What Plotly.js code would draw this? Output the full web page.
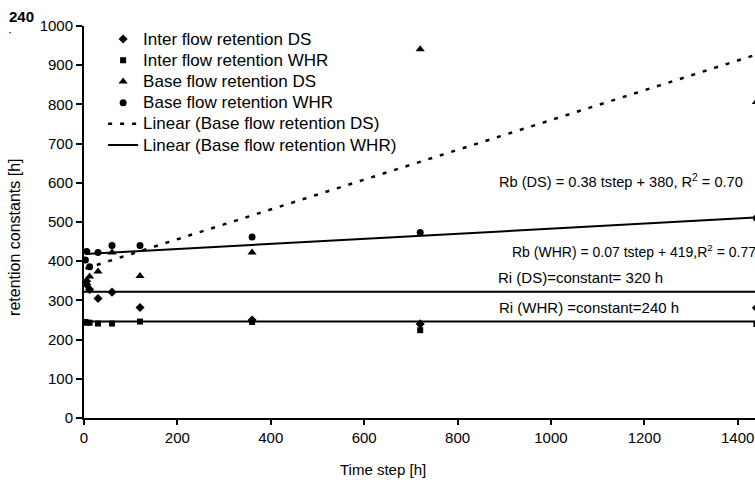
<!DOCTYPE html>
<html>
<head>
<meta charset="utf-8">
<script src="https://cdn.plot.ly/plotly-3.0.1.min.js"></script>
<style>
html,body{margin:0;padding:0;background:#fff;}
#chart{width:755px;height:482px;}
.legendtext{font-size:17px !important;}
</style>
</head>
<body>
<div id="chart"></div>
<script>
// ---- data ----
const timeSteps = [3, 6, 12, 30, 60, 120, 360, 720, 1440];
const interDS   = [345, 340, 328, 305, 321, 282, 250, 240, 281];
const interWHR  = [245, 243, 243, 241, 241, 246, 245, 224, 240];
const baseDS    = [345, 352, 361, 374, 422, 362, 422, 941, 806];
const baseWHR   = [403, 425, 386, 422, 440, 440, 462, 473, 510];
const trendDS   = {slope: 0.38, intercept: 380};
const trendWHR  = {slope: 0.065, intercept: 418};
const riDS  = 322;
const riWHR = 246;
const xTickVals = [0, 200, 400, 600, 800, 1000, 1200, 1400];
const yTickVals = [0, 100, 200, 300, 400, 500, 600, 700, 800, 900, 1000];
const labels = {
  interDS: 'Inter flow retention DS',
  interWHR: 'Inter flow retention WHR',
  baseDS: 'Base flow retention DS',
  baseWHR: 'Base flow retention WHR',
  linDS: 'Linear (Base flow retention DS)',
  linWHR: 'Linear (Base flow retention WHR)',
  eqDS: 'Rb (DS) = 0.38 tstep + 380, R<sup>2</sup> = 0.70',
  eqWHR: 'Rb (WHR) = 0.07 tstep + 419,R<sup>2</sup> = 0.77',
  riDSText: 'Ri (DS)=constant= 320 h',
  riWHRText: 'Ri (WHR) =constant=240 h',
  xTitle: 'Time step [h]',
  yTitle: 'retention constants [h]',
  corner: '240'
};

const FONT = 'Liberation Sans, Arial, sans-serif';
const tMin = Math.min(...timeSteps), tMax = Math.max(...timeSteps);
const lineX = [tMin, tMax];
const constX = [0, tMax];

const traces = [
  {x: timeSteps, y: interDS, name: labels.interDS, mode: 'markers', type: 'scatter',
   marker: {symbol: 'diamond', size: 7, color: '#000'}},
  {x: timeSteps, y: interWHR, name: labels.interWHR, mode: 'markers', type: 'scatter',
   marker: {symbol: 'square', size: 6, color: '#000'}},
  {x: timeSteps, y: baseDS, name: labels.baseDS, mode: 'markers', type: 'scatter',
   marker: {symbol: 'triangle-up', size: 8, color: '#000'}},
  {x: timeSteps, y: baseWHR, name: labels.baseWHR, mode: 'markers', type: 'scatter',
   marker: {symbol: 'circle', size: 7, color: '#000'}},
  {x: lineX, y: lineX.map(t => trendDS.slope * t + trendDS.intercept), name: labels.linDS,
   mode: 'lines', type: 'scatter', line: {color: '#000', width: 2.5, dash: '4px,8px'}},
  {x: lineX, y: lineX.map(t => trendWHR.slope * t + trendWHR.intercept), name: labels.linWHR,
   mode: 'lines', type: 'scatter', line: {color: '#000', width: 2}},
  {x: constX, y: constX.map(() => riDS), mode: 'lines', type: 'scatter', showlegend: false,
   hoverinfo: 'skip', line: {color: '#000', width: 2}},
  {x: constX, y: constX.map(() => riWHR), mode: 'lines', type: 'scatter', showlegend: false,
   hoverinfo: 'skip', line: {color: '#000', width: 2}}
];

const annFont = {family: FONT, size: 15, color: '#000'};
const layout = {
  width: 755, height: 482,
  margin: {l: 84, r: 0, t: 26, b: 64, pad: 0},
  paper_bgcolor: '#fff', plot_bgcolor: '#fff',
  font: {family: FONT, size: 15, color: '#000'},
  showlegend: true,
  legend: {x: 0.0285, y: 1.0065, xanchor: 'left', yanchor: 'top', bgcolor: 'rgba(0,0,0,0)',
           font: {family: FONT, size: 14, color: '#000'}, tracegroupgap: 0},
  xaxis: {range: [0, 1437], tickvals: xTickVals, ticks: 'outside', ticklen: 5, tickwidth: 2,
          tickcolor: '#000', showline: true, linecolor: '#000', linewidth: 2, showgrid: false,
          zeroline: false, ticklabeloverflow: 'allow', tickfont: {family: FONT, size: 15}},
  yaxis: {range: [0, 1000], tickvals: yTickVals, ticks: 'outside', ticklen: 6, tickwidth: 2,
          tickcolor: '#000', showline: true, linecolor: '#000', linewidth: 2, showgrid: false,
          zeroline: false, tickfont: {family: FONT, size: 15}},
  annotations: [
    {text: labels.xTitle, x: 0.4456, y: -0.132, xref: 'paper', yref: 'paper', xanchor: 'center', yanchor: 'middle', showarrow: false, font: {family: FONT, size: 15, color: '#000'}},
    {text: labels.yTitle, x: -0.104, y: 0.46, xref: 'paper', yref: 'paper', xanchor: 'center', yanchor: 'middle', textangle: -90, showarrow: false, font: {family: FONT, size: 16, color: '#000'}},
    {text: labels.eqDS, x: 884, y: 605, xref: 'x', yref: 'y', xanchor: 'left', yanchor: 'middle', showarrow: false, font: {family: FONT, size: 14.6, color: '#000'}},
    {text: labels.eqWHR, x: 912, y: 426, xref: 'x', yref: 'y', xanchor: 'left', yanchor: 'middle', showarrow: false, font: {family: FONT, size: 14, color: '#000'}},
    {text: labels.riDSText, x: 882, y: 358, xref: 'x', yref: 'y', xanchor: 'left', yanchor: 'middle', showarrow: false, font: annFont},
    {text: labels.riWHRText, x: 884, y: 281, xref: 'x', yref: 'y', xanchor: 'left', yanchor: 'middle', showarrow: false, font: annFont},
    {text: '<b>' + labels.corner + '</b>', x: -0.1148, y: 1.023, xref: 'paper', yref: 'paper', xanchor: 'left', yanchor: 'middle', showarrow: false, font: {family: FONT, size: 15, color: '#000'}},
    {text: '·', x: -0.111, y: 0.985, xref: 'paper', yref: 'paper', xanchor: 'center', yanchor: 'middle', showarrow: false, font: {family: FONT, size: 12, color: '#000'}}
  ]
};

Plotly.newPlot('chart', traces, layout, {displayModeBar: false, staticPlot: true});
</script>
</body>
</html>
